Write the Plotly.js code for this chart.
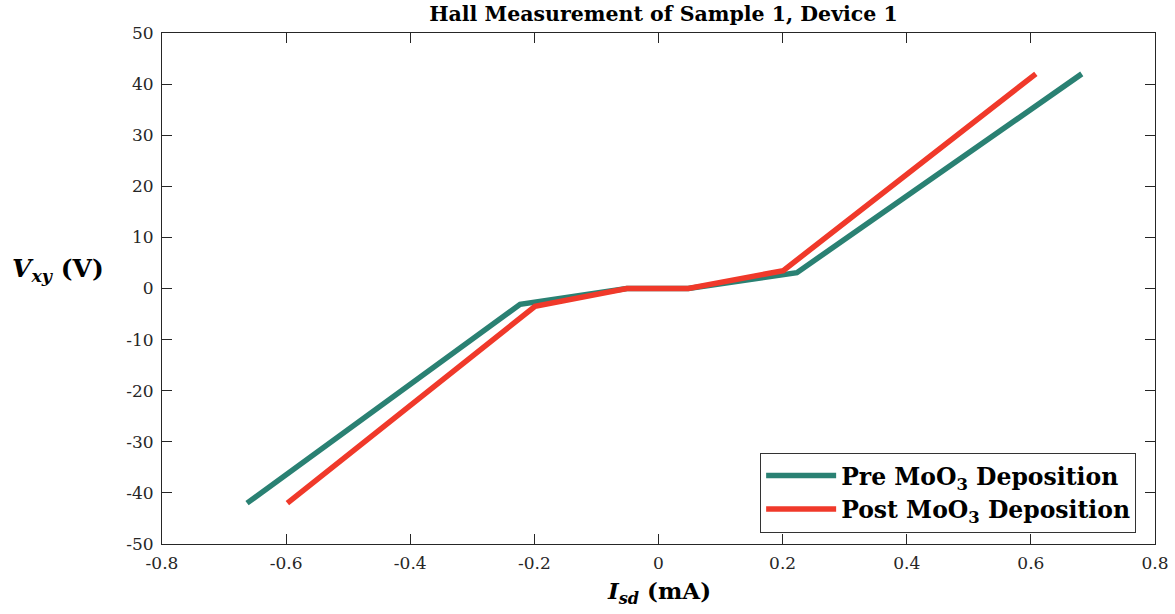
<!DOCTYPE html>
<html>
<head>
<meta charset="utf-8">
<script src="https://cdn.plot.ly/plotly-3.0.1.min.js"></script>
<style>html,body{margin:0;padding:0;background:#fff;}#chart{width:1175px;height:614px;}</style>
</head>
<body>
<div id="chart"></div>
<script>
// Data
const preIsd  = [-0.663, -0.223, -0.051, 0.048, 0.223, 0.682];
const preVxy  = [-42.0, -3.1, 0.0, 0.0, 3.1, 42.0];
const postIsd = [-0.598, -0.199, -0.051, 0.048, 0.201, 0.608];
const postVxy = [-42.0, -3.5, 0.0, 0.0, 3.5, 42.0];

const xTickVals = [-0.8, -0.6, -0.4, -0.2, 0, 0.2, 0.4, 0.6, 0.8];
const xTickText = ["-0.8", "-0.6", "-0.4", "-0.2", "0", "0.2", "0.4", "0.6", "0.8"];
const yTickVals = [-50, -40, -30, -20, -10, 0, 10, 20, 30, 40, 50];
const yTickText = ["-50", "-40", "-30", "-20", "-10", "0", "10", "20", "30", "40", "50"];

const seriesNames = ["Pre MoO<sub>3</sub> Deposition", "Post MoO<sub>3</sub> Deposition"];
const titleText = "Hall Measurement of Sample 1, Device 1";

const FONT = "DejaVu Serif";
const axisColor = "#262626";

const traces = [
  {x: preIsd, y: preVxy, name: "<b>" + seriesNames[0] + "</b>", type: "scatter", mode: "lines",
   line: {color: "#2a8173", width: 5.5}},
  {x: postIsd, y: postVxy, name: "<b>" + seriesNames[1] + "</b>", type: "scatter", mode: "lines",
   line: {color: "#f0392a", width: 5.5}}
];

const axisCommon = {
  showgrid: false, zeroline: false, showline: true, mirror: "ticks",
  linecolor: axisColor, linewidth: 1,
  ticks: "inside", ticklen: 10, tickwidth: 1, tickcolor: axisColor,
  tickmode: "array",
  tickfont: {family: FONT, size: 17, color: axisColor}
};

const layout = {
  width: 1175, height: 614,
  paper_bgcolor: "#fff", plot_bgcolor: "#fff",
  margin: {l: 162, r: 20, t: 33, b: 70},
  showlegend: true,
  title: {text: "<b>" + titleText + "</b>", font: {family: FONT, size: 20.5, color: "#000"},
          x: 0.505, xanchor: "center", xref: "paper", y: 0.978, yref: "container", yanchor: "middle"},
  xaxis: Object.assign({}, axisCommon, {range: [-0.8, 0.8], tickvals: xTickVals, ticktext: xTickText, ticklabelstandoff: 4}),
  yaxis: Object.assign({}, axisCommon, {range: [-50, 50], tickvals: yTickVals, ticktext: yTickText, ticklabelstandoff: 4}),
  legend: {
    x: 0.981, xanchor: "right", y: 0.022, yanchor: "bottom",
    bgcolor: "#fff", bordercolor: "#333", borderwidth: 1,
    font: {family: FONT, size: 23.5, color: "#000"},
    itemwidth: 70, tracegroupgap: 0
  },
  annotations: [
    {text: "<b><i>V</i><sub><i>xy</i></sub> (V)</b>", xref: "paper", yref: "paper",
     x: -0.105, y: 0.5355, xanchor: "center", yanchor: "middle", showarrow: false,
     font: {family: FONT, size: 25, color: "#000"}},
    {text: "<b><i>I</i><sub><i>sd</i></sub> (mA)</b>", xref: "paper", yref: "paper",
     x: 0.5, y: -0.094, xanchor: "center", yanchor: "middle", showarrow: false,
     font: {family: FONT, size: 23, color: "#000"}}
  ]
};

Plotly.newPlot("chart", traces, layout, {displayModeBar: false, staticPlot: true});
</script>
</body>
</html>
